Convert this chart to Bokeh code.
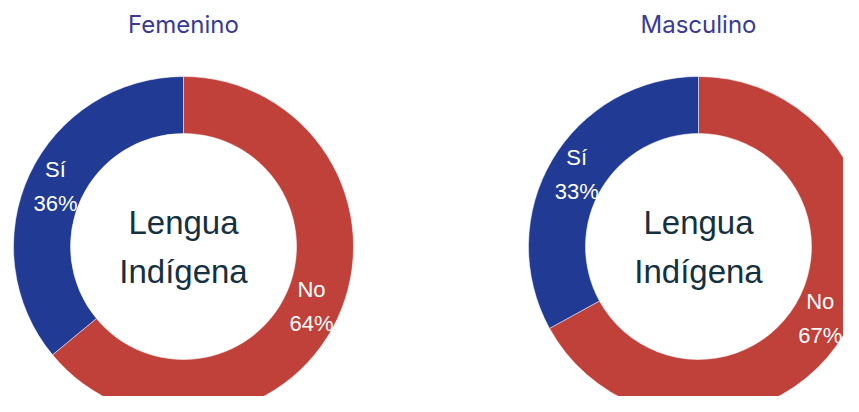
import numpy as np
from bokeh.plotting import figure
from bokeh.models import ColumnDataSource
from bokeh.core.properties import value
from bokeh.embed import file_html
from bokeh.resources import INLINE

# ---- data ----
groups = ["Femenino", "Masculino"]
categories = ["No", "Sí"]
no_values = [64, 67]
si_values = [36, 33]
center_text = ["Lengua", "Indígena"]
colors = {"No": "#c0403a", "Sí": "#213b95"}

# ---- layout (pixels) ----
W, H = 843, 396
centers_x = [183, 698]
center_y = H - 246
r_in, r_out = 113, 170
r_lab = (r_in + r_out) / 2

p = figure(width=W, height=H, x_range=(0, W), y_range=(0, H),
           output_backend="svg", toolbar_location=None, min_border=0)
p.axis.visible = False
p.grid.visible = False
p.outline_line_color = None
p.background_fill_color = "white"

wx, wy, ws, we, wc = [], [], [], [], []
lx, ly, lt1, lt2 = [], [], [], []
for gi, g in enumerate(groups):
    vals = {"No": no_values[gi], "Sí": si_values[gi]}
    total = sum(vals.values())
    top = np.pi / 2
    f_no = vals["No"] / total * 2 * np.pi
    f_si = vals["Sí"] / total * 2 * np.pi
    segs = [("No", top - f_no, top), ("Sí", top, top + f_si)]
    for cat, s, e in segs:
        wx.append(centers_x[gi]); wy.append(center_y)
        ws.append(s); we.append(e); wc.append(colors[cat])
        mid = (s + e) / 2
        lx.append(centers_x[gi] + r_lab * np.cos(mid))
        ly.append(center_y + r_lab * np.sin(mid))
        lt1.append(cat)
        lt2.append(f"{vals[cat]}%")

src = ColumnDataSource(dict(x=wx, y=wy, s=ws, e=we, c=wc))
p.annular_wedge(x="x", y="y", inner_radius=r_in, outer_radius=r_out,
                start_angle="s", end_angle="e", fill_color="c",
                line_color="white", line_width=0.5, source=src)

lsrc = ColumnDataSource(dict(x=lx, y=ly, t1=lt1, t2=lt2))
p.text(x="x", y="y", text="t1", source=lsrc, text_color="white",
       text_font=value("Liberation Sans"), text_font_size="22px",
       text_align="center", text_baseline="middle", y_offset=-17)
p.text(x="x", y="y", text="t2", source=lsrc, text_color="white",
       text_font=value("Liberation Sans"), text_font_size="22px",
       text_align="center", text_baseline="middle", y_offset=17)

# titles
p.text(x=centers_x, y=[H - 24] * 2, text=groups, text_color="#3a3a94",
       text_font=value("Inter"), text_font_size="24px",
       text_align="center", text_baseline="middle")

# center labels
for i, t in enumerate(center_text):
    p.text(x=centers_x, y=[H - 222 - 49 * i] * 2, text=[t, t], text_color="#15303f",
           text_font=value("Liberation Sans"), text_font_size="33px",
           text_align="center", text_baseline="middle")

open("out.html", "w").write(file_html(p, INLINE))
